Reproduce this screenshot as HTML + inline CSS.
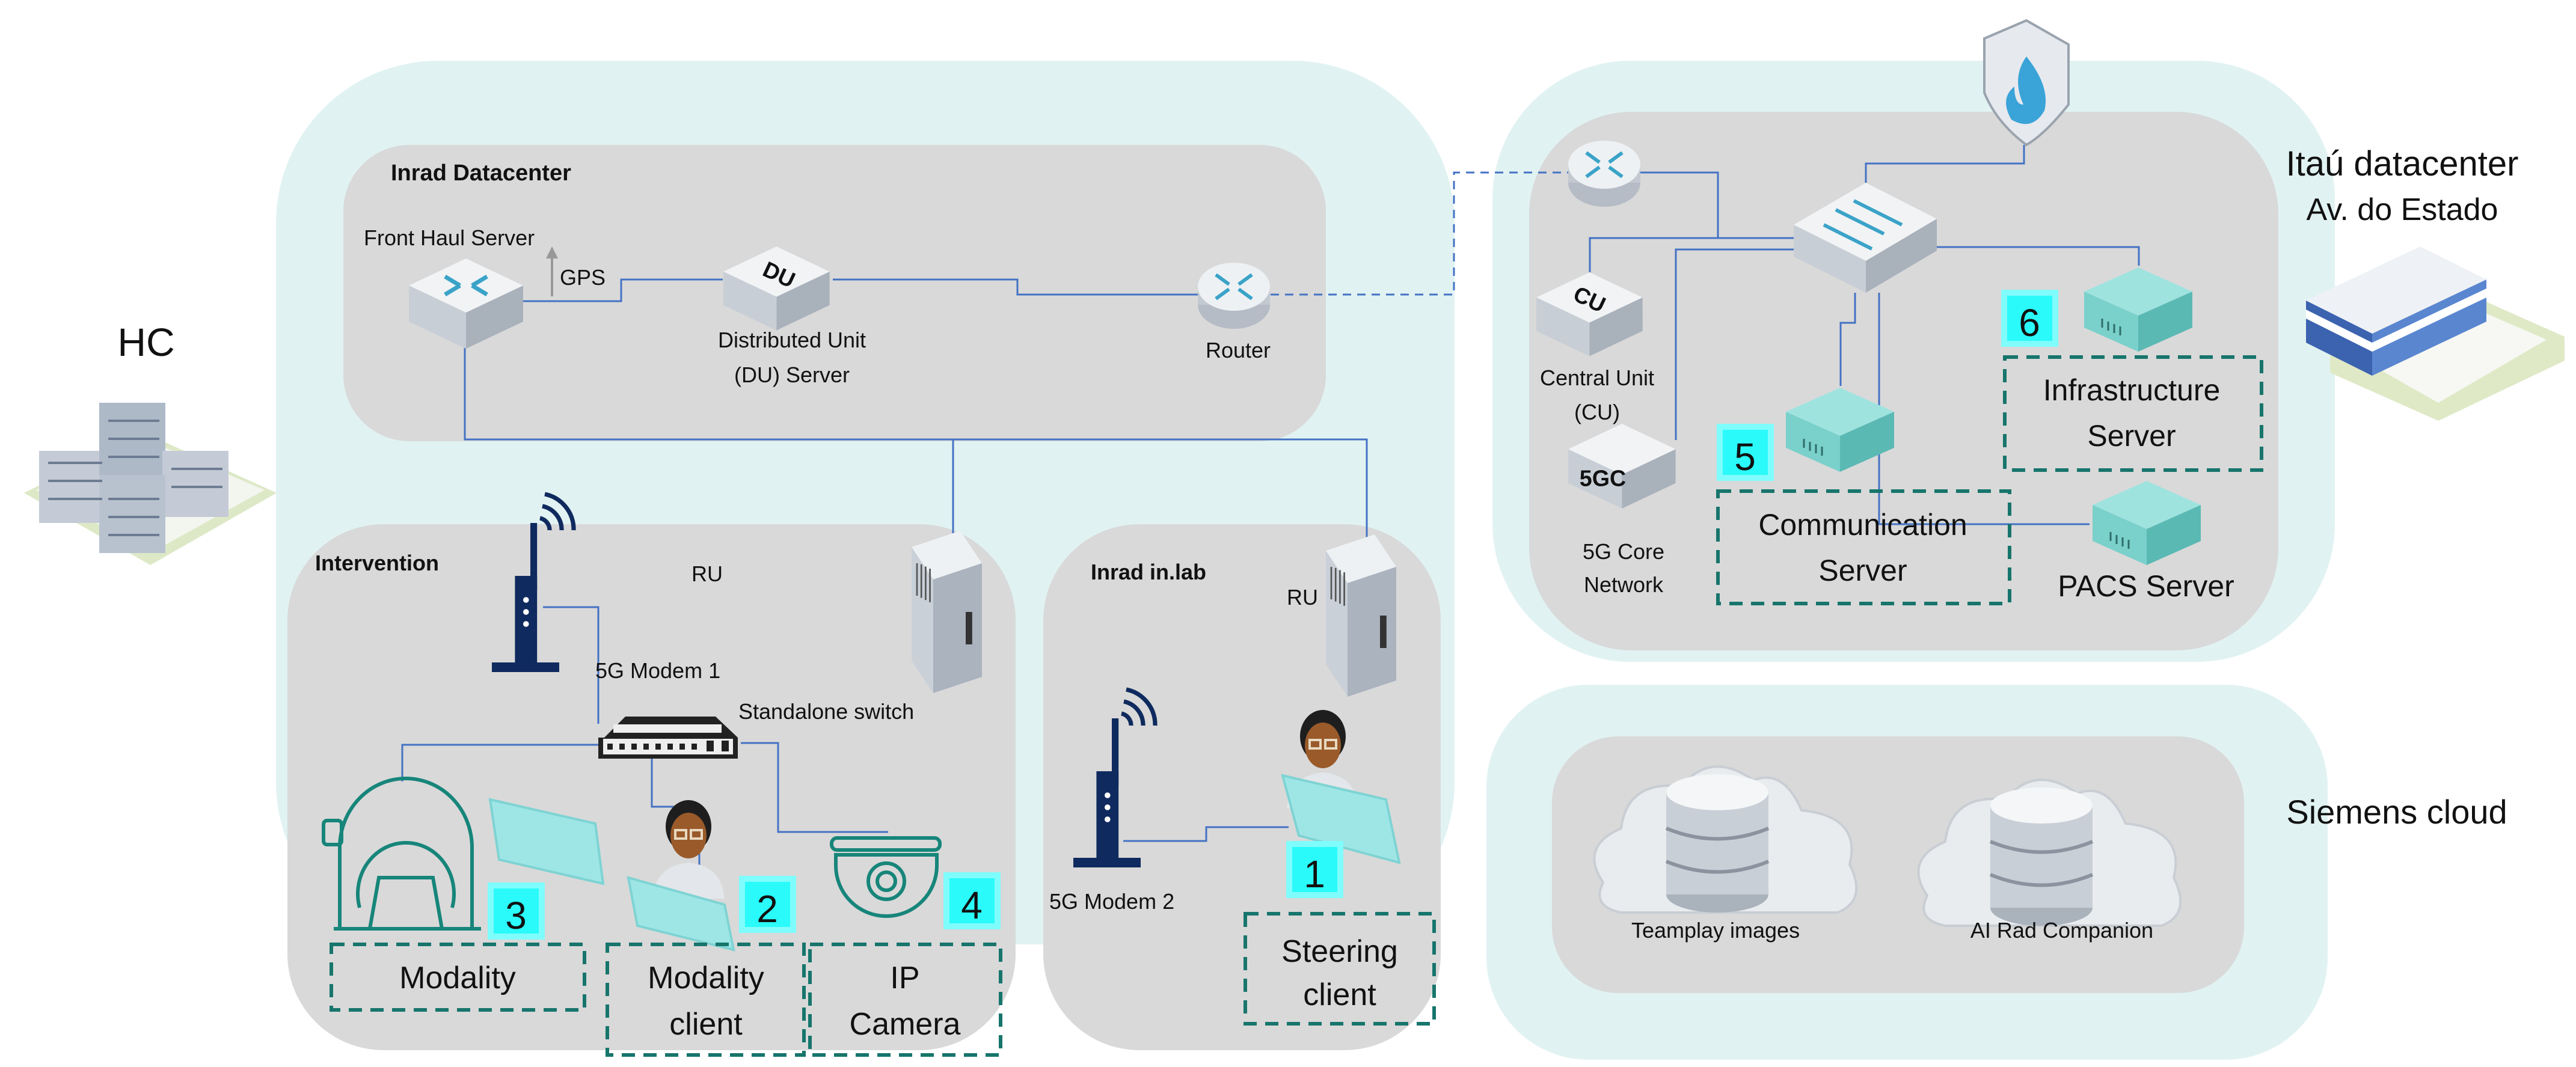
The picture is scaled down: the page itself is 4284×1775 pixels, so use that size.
<!DOCTYPE html>
<html><head><meta charset="utf-8"><style>
html,body{margin:0;padding:0;background:#fff}
svg{display:block}
text{font-family:"Liberation Sans",sans-serif;fill:#111}
</style></head><body>
<svg width="4284" height="1775" viewBox="0 0 4284 1775" xmlns="http://www.w3.org/2000/svg">
<defs>
<g id="srv"><polygon points="0,40 90,0 180,40 90,80" fill="#9fe3df"/><polygon points="0,40 90,80 90,140 0,100" fill="#7ad0cb"/><polygon points="90,80 180,40 180,100 90,140" fill="#5bb9b4"/><g stroke="#2d6e6a" stroke-width="3"><line x1="30" y1="85" x2="30" y2="100"/><line x1="40" y1="90" x2="40" y2="105"/><line x1="50" y1="94" x2="50" y2="109"/><line x1="60" y1="98" x2="60" y2="113"/></g></g>
<g id="box"><polygon points="0,45 95,0 190,45 95,90" fill="#f1f3f5"/><polygon points="0,45 95,90 95,150 0,105" fill="#c8ced6"/><polygon points="95,90 190,45 190,105 95,150" fill="#a9b1bb"/></g>
<g id="rtr"><ellipse cx="0" cy="20" rx="60" ry="40" fill="#b5bcc5"/><rect x="-60" y="-10" width="120" height="30" fill="#c3c9d1"/><ellipse cx="0" cy="-10" rx="60" ry="40" fill="#eef1f4"/><g stroke="#3aa3c8" stroke-width="6" fill="none"><path d="M-30,-30 L-8,-14 M30,-30 L8,-14 M-30,10 L-8,-6 M30,10 L8,-6"/></g></g>
<g id="person"><ellipse cx="0" cy="-10" rx="38" ry="44" fill="#1e1e1e"/><ellipse cx="0" cy="5" rx="30" ry="38" fill="#9a5a2a"/><rect x="-22" y="-4" width="18" height="14" fill="none" stroke="#e8d9c0" stroke-width="4"/><rect x="4" y="-4" width="18" height="14" fill="none" stroke="#e8d9c0" stroke-width="4"/><path d="M-60,110 Q-55,55 0,50 Q55,55 60,110 Z" fill="#e3e6ea"/></g>
<g id="badge"><rect x="0" y="0" width="95" height="95" fill="#7ffcfc"/><rect x="10" y="10" width="75" height="75" fill="#2afafa"/></g>
<g id="modem"><rect x="80" y="0" width="14" height="140" fill="#0f2a5e"/><rect x="48" y="110" width="46" height="200" fill="#0f2a5e"/><rect x="0" y="290" width="140" height="20" fill="#0f2a5e"/><circle cx="71" cy="160" r="6" fill="#fff"/><circle cx="71" cy="185" r="6" fill="#fff"/><circle cx="71" cy="210" r="6" fill="#fff"/><path d="M100,-10 a25,25 0 0 1 20,25 M105,-35 a50,50 0 0 1 40,50 M110,-60 a75,75 0 0 1 60,75" stroke="#0f2a5e" stroke-width="9" fill="none"/></g>
<g id="ru"><path d="M0,30 L90,0 L130,60 L130,270 L40,300 L0,240 Z" fill="#c9d0d8"/><path d="M0,30 L90,0 L130,60 L40,90 Z" fill="#eef1f4"/><path d="M40,90 L130,60 L130,270 L40,300 Z" fill="#aab3be"/><g stroke="#555" stroke-width="3"><line x1="10" y1="60" x2="10" y2="120"/><line x1="18" y1="62" x2="18" y2="124"/><line x1="26" y1="66" x2="26" y2="128"/><line x1="34" y1="70" x2="34" y2="132"/></g><rect x="100" y="150" width="12" height="60" fill="#333"/></g>
<g id="cloud"><path d="M30,210 Q-10,150 60,120 Q70,40 160,50 Q210,-10 280,40 Q330,20 360,90 Q460,100 440,180 Q470,240 420,260 L60,260 Q10,250 30,210 Z" fill="#e9ecef" stroke="#c9ced4" stroke-width="4"/><ellipse cx="220" cy="230" rx="85" ry="30" fill="#aab2bc"/><rect x="135" y="60" width="170" height="170" fill="#c9cfd6"/><ellipse cx="220" cy="60" rx="85" ry="30" fill="#f4f6f8"/><path d="M135,120 Q220,155 305,120 M135,175 Q220,210 305,175" stroke="#8b949e" stroke-width="6" fill="none"/></g>
</defs>

<rect x="459" y="101" width="1960" height="1470" rx="270" fill="#e1f2f2"/>
<rect x="2482" y="101" width="1401" height="1000" rx="230" fill="#e1f2f2"/>
<rect x="2472" y="1139" width="1399" height="624" rx="170" fill="#e1f2f2"/>

<rect x="571" y="241" width="1634" height="493" rx="110" fill="#d9d9d9"/>
<rect x="478" y="872" width="1211" height="875" rx="160" fill="#d9d9d9"/>
<rect x="1735" y="872" width="661" height="875" rx="160" fill="#d9d9d9"/>
<rect x="2543" y="186" width="1246" height="896" rx="170" fill="#d9d9d9"/>
<rect x="2581" y="1225" width="1151" height="427" rx="110" fill="#d9d9d9"/>

<g stroke="#4472c4" stroke-width="3" fill="none">
<polyline points="860,501 1033,501 1033,465 1202,465"/>
<polyline points="1385,465 1692,465 1692,490 1995,490"/>
<polyline points="773,575 773,731 1585,731 1585,893"/>
<polyline points="1585,731 2273,731 2273,900"/>
<polyline points="903,1010 995,1010 995,1204"/>
<polyline points="995,1239 669,1239 669,1300"/>
<polyline points="1084,1262 1084,1342 1163,1342 1163,1445"/>
<polyline points="1232,1236 1294,1236 1294,1384 1477,1384"/>
<polyline points="1868,1399 2006,1399 2006,1376 2143,1376"/>
<polyline points="2726,287 2857,287 2857,396 2983,396"/>
<polyline points="3366,241 3366,272 3103,272 3103,304"/>
<polyline points="2983,396 2644,396 2644,453"/>
<polyline points="2983,415 2787,415 2787,732"/>
<polyline points="3221,411 3557,411 3557,442"/>
<polyline points="3085,487 3085,537 3061,537 3061,642"/>
<polyline points="3125,487 3125,872 3475,872"/>
</g>
<polyline points="2113,490 2418,490 2418,287 2610,287" stroke="#4472c4" stroke-width="3" fill="none" stroke-dasharray="14,10"/>
<polyline points="918,493 918,425" stroke="#999" stroke-width="4" fill="none"/>
<polygon points="908,430 918,410 928,430" fill="#999"/>

<g transform="translate(680,430)"><use href="#box"/><g stroke="#3aa3c8" stroke-width="7" fill="none"><path d="M60,30 L85,45 M130,30 L105,45 M60,60 L85,45 M130,60 L105,45"/></g></g>
<g transform="translate(1203,410) scale(0.93)"><use href="#box"/><text x="70" y="60" font-size="40" font-weight="bold" fill="#3aa3c8" transform="rotate(25 90 50)">DU</text></g>
<use href="#rtr" x="2052" y="487"/>
<use href="#rtr" x="2668" y="284"/>

<text x="605" y="408" font-size="36">Front Haul Server</text>
<text x="931" y="474" font-size="36">GPS</text>
<text x="1317" y="578" font-size="36" text-anchor="middle">Distributed Unit</text>
<text x="1317" y="636" font-size="36" text-anchor="middle">(DU) Server</text>
<text x="2059" y="595" font-size="36" text-anchor="middle">Router</text>
<text x="650" y="300" font-size="38" font-weight="bold" fill="#333">Inrad Datacenter</text>

<text x="243" y="592" font-size="66" text-anchor="middle">HC</text>
<g transform="translate(40,640)">
<polygon points="0,180 200,80 420,180 210,300" fill="#dde9c6"/>
<polygon points="20,175 200,90 400,175 210,280" fill="#f3f5ef"/>
<rect x="25" y="110" width="120" height="120" fill="#c4cbd6"/><rect x="125" y="30" width="110" height="150" fill="#aeb9c8"/><rect x="230" y="110" width="110" height="110" fill="#c4cbd6"/><rect x="125" y="150" width="110" height="130" fill="#b8c2cf"/>
<g stroke="#6d7c92" stroke-width="4"><line x1="40" y1="130" x2="130" y2="130"/><line x1="40" y1="160" x2="130" y2="160"/><line x1="40" y1="190" x2="130" y2="190"/><line x1="140" y1="60" x2="225" y2="60"/><line x1="140" y1="90" x2="225" y2="90"/><line x1="140" y1="120" x2="225" y2="120"/><line x1="245" y1="140" x2="330" y2="140"/><line x1="245" y1="170" x2="330" y2="170"/><line x1="140" y1="190" x2="225" y2="190"/><line x1="140" y1="220" x2="225" y2="220"/><line x1="140" y1="250" x2="225" y2="250"/></g>
</g>

<text x="524" y="949" font-size="36" font-weight="bold">Intervention</text>
<text x="1176" y="967" font-size="36" text-anchor="middle">RU</text>
<g transform="translate(1516,883) scale(0.9)"><use href="#ru"/></g>
<g transform="translate(818,870) scale(0.8)"><use href="#modem"/></g>
<text x="990" y="1128" font-size="36">5G Modem 1</text>
<g transform="translate(995,1187)"><path d="M10,40 L45,5 L195,5 L232,40 L232,75 L0,75 L0,40 Z" fill="#222"/><rect x="8" y="42" width="216" height="26" fill="#eee"/><g fill="#222"><rect x="15" y="50" width="9" height="10"/><rect x="35" y="50" width="9" height="10"/><rect x="55" y="50" width="9" height="10"/><rect x="75" y="50" width="9" height="10"/><rect x="95" y="50" width="9" height="10"/><rect x="115" y="50" width="9" height="10"/><rect x="135" y="50" width="9" height="10"/><rect x="155" y="50" width="9" height="10"/><rect x="180" y="45" width="12" height="18"/><rect x="205" y="45" width="12" height="18"/></g><rect x="25" y="18" width="180" height="14" fill="#eee"/></g>
<text x="1228" y="1196" font-size="36">Standalone switch</text>
<g fill="none" stroke="#17857a" stroke-width="6">
<path d="M565,1545 L565,1410 A110,115 0 0 1 785,1410 L785,1545"/>
<path d="M598,1510 A80,85 0 1 1 752,1510"/>
<path d="M615,1545 L630,1460 L720,1460 L735,1545 Z"/>
<rect x="538" y="1365" width="30" height="40" rx="6"/>
<line x1="555" y1="1545" x2="800" y2="1545"/>
</g>
<polygon points="815,1330 990,1370 1003,1470 830,1430" fill="#9ee6e6" stroke="#7fd3d3" stroke-width="4"/>
<use href="#person" x="1145" y="1385"/>
<polygon points="1045,1460 1205,1505 1220,1580 1060,1540" fill="#9ee6e6" stroke="#7fd3d3" stroke-width="4"/>
<g fill="none" stroke="#17857a" stroke-width="6"><rect x="1383" y="1394" width="180" height="20" rx="9"/><path d="M1390,1422 L1558,1422 L1558,1440 A84,84 0 0 1 1390,1440 Z"/><circle cx="1474" cy="1466" r="30"/><circle cx="1474" cy="1466" r="15"/></g>
<use href="#badge" x="811" y="1468"/><text x="858" y="1545" font-size="64" fill="#fff" text-anchor="middle">3</text>
<use href="#badge" x="1229" y="1457"/><text x="1276" y="1534" font-size="64" fill="#fff" text-anchor="middle">2</text>
<use href="#badge" x="1569" y="1451"/><text x="1616" y="1528" font-size="64" fill="#fff" text-anchor="middle">4</text>
<g fill="none" stroke="#17756c" stroke-width="6" stroke-dasharray="22,14">
<rect x="551" y="1571" width="421" height="109"/>
<rect x="1010" y="1571" width="327" height="184"/>
<rect x="1347" y="1571" width="317" height="184"/>
<rect x="2071" y="1520" width="314" height="183"/>
<rect x="2857" y="817" width="485" height="187"/>
<rect x="3334" y="594" width="427" height="188"/>
</g>
<text x="761" y="1644" font-size="52" text-anchor="middle">Modality</text>
<text x="1174" y="1644" font-size="52" text-anchor="middle">Modality</text>
<text x="1174" y="1721" font-size="52" text-anchor="middle">client</text>
<text x="1505" y="1644" font-size="52" text-anchor="middle">IP</text>
<text x="1505" y="1721" font-size="52" text-anchor="middle">Camera</text>

<text x="1814" y="964" font-size="36" font-weight="bold">Inrad in.lab</text>
<text x="2166" y="1006" font-size="36" text-anchor="middle">RU</text>
<g transform="translate(2205,889) scale(0.9)"><use href="#ru"/></g>
<g transform="translate(1785,1195) scale(0.8)"><use href="#modem"/></g>
<text x="1745" y="1512" font-size="36">5G Modem 2</text>
<use href="#person" x="2200" y="1235"/>
<polygon points="2133,1290 2305,1330 2327,1435 2160,1390" fill="#9ee6e6" stroke="#7fd3d3" stroke-width="4"/>
<use href="#badge" x="2139" y="1399"/><text x="2186" y="1476" font-size="64" fill="#fff" text-anchor="middle">1</text>
<text x="2228" y="1600" font-size="52" text-anchor="middle">Steering</text>
<text x="2228" y="1672" font-size="52" text-anchor="middle">client</text>

<g transform="translate(3290,34)"><path d="M10,30 L80,0 L150,40 L150,140 Q110,190 80,207 Q30,170 10,120 Z" fill="#e6e9ee" stroke="#9aa3ae" stroke-width="4"/><path d="M80,60 Q120,110 110,150 Q90,185 55,165 Q35,130 60,110 Q60,140 75,140 Q55,95 80,60 Z" fill="#3aa3d8"/></g>
<g transform="translate(2983,304)"><polygon points="0,70 120,0 238,60 120,130" fill="#f1f3f5"/><polygon points="0,70 120,130 120,183 0,123" fill="#c8ced6"/><polygon points="120,130 238,60 238,113 120,183" fill="#a9b1bb"/><g stroke="#3aa3c8" stroke-width="6"><line x1="70" y1="45" x2="150" y2="85"/><line x1="100" y1="30" x2="180" y2="70"/><line x1="50" y1="70" x2="130" y2="110"/></g></g>
<g transform="translate(2555,453) scale(0.93)"><use href="#box"/><text x="65" y="60" font-size="40" font-weight="bold" fill="#3aa3c8" transform="rotate(25 90 50)">CU</text></g>
<text x="2656" y="641" font-size="36" text-anchor="middle" fill="#333">Central Unit</text>
<text x="2656" y="698" font-size="36" text-anchor="middle" fill="#333">(CU)</text>
<g transform="translate(2608,705) scale(0.94)"><use href="#box"/><text x="20" y="110" font-size="40" font-weight="bold" fill="#5aa8d0">5GC</text></g>
<text x="2700" y="930" font-size="36" text-anchor="middle" fill="#333">5G Core</text>
<text x="2700" y="985" font-size="36" text-anchor="middle" fill="#333">Network</text>
<use href="#srv" x="2970" y="645"/>
<use href="#srv" x="3466" y="445"/>
<use href="#srv" x="3480" y="800"/>
<use href="#badge" x="2855" y="705"/><text x="2902" y="782" font-size="64" fill="#fff" text-anchor="middle">5</text>
<use href="#badge" x="3328" y="482"/><text x="3375" y="559" font-size="64" fill="#fff" text-anchor="middle">6</text>
<text x="3098" y="890" font-size="50" text-anchor="middle">Communication</text>
<text x="3098" y="966" font-size="50" text-anchor="middle">Server</text>
<text x="3545" y="666" font-size="50" text-anchor="middle">Infrastructure</text>
<text x="3545" y="742" font-size="50" text-anchor="middle">Server</text>
<text x="3569" y="992" font-size="50" text-anchor="middle">PACS Server</text>
<text x="3995" y="292" font-size="58" text-anchor="middle">Itaú datacenter</text>
<text x="3995" y="366" font-size="52" text-anchor="middle">Av. do Estado</text>
<g transform="translate(3835,390)">
<path d="M40,200 L250,90 L430,170 L430,210 L220,310 L40,230 Z" fill="#dfe9c6"/>
<path d="M70,195 L250,110 L400,175 L220,280 Z" fill="#f7f8f4"/>
<polygon points="0,110 190,20 300,75 110,165" fill="#eef1f6"/>
<polygon points="0,110 110,165 110,235 0,180" fill="#3c63b0"/>
<polygon points="110,165 300,75 300,145 110,235" fill="#5a86d0"/>
<polygon points="0,125 110,180 110,195 0,140" fill="#fff"/>
<polygon points="110,180 300,90 300,105 110,195" fill="#fff"/>
</g>

<use href="#cloud" x="2636" y="1258"/>
<use href="#cloud" x="3175" y="1280"/>
<text x="2853" y="1560" font-size="36" text-anchor="middle">Teamplay images</text>
<text x="3429" y="1560" font-size="36" text-anchor="middle">AI Rad Companion</text>
<text x="3986" y="1370" font-size="56" text-anchor="middle">Siemens cloud</text>
</svg>
</body></html>
